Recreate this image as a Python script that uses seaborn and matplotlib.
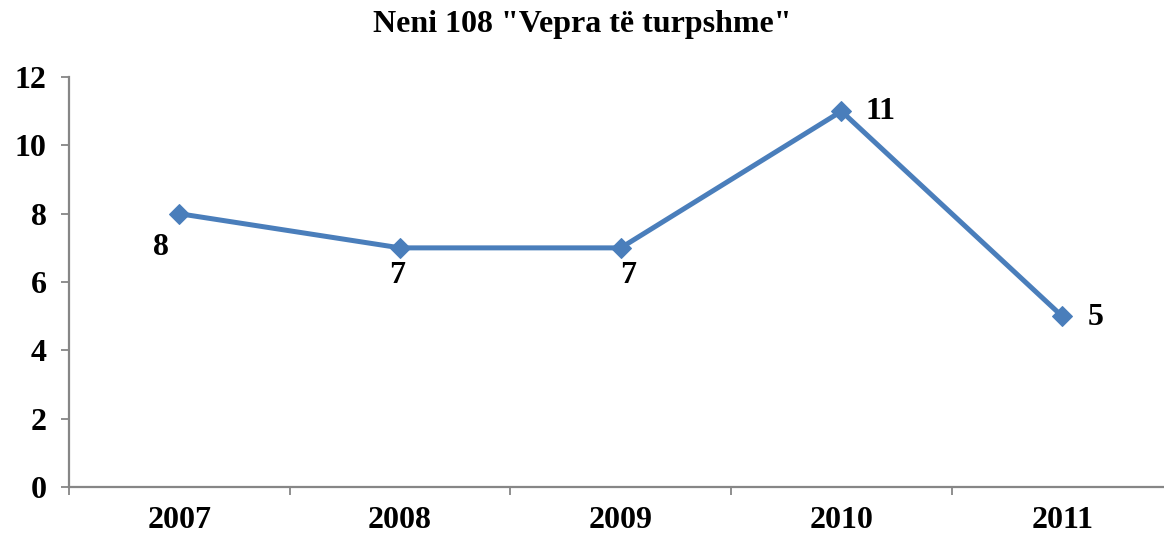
import matplotlib
matplotlib.use("Agg")
import matplotlib.pyplot as plt
import seaborn as sns
import pandas as pd

# ─── Data ─────────────────────────────────────────────────────────────────────
years  = ["2007", "2008", "2009", "2010", "2011"]
values = [8, 7, 7, 11, 5]
# label offsets in points (dx, dy) relative to each marker
label_offsets = [(-13, -24), (-2, -20), (5, -20), (28, 0), (24, -1)]

TITLE      = 'Neni 108 "Vepra të turpshme"'
LINE_COLOR = "#4A7EBB"
AXIS_COLOR = "#868686"
FONT_SIZE  = 23
# ──────────────────────────────────────────────────────────────────────────────

sns.set_style("white")
plt.rcParams["font.family"] = ["Liberation Serif", "DejaVu Serif"]
plt.rcParams["font.weight"] = "bold"
plt.rcParams["text.color"] = "black"
plt.rcParams["xtick.labelcolor"] = "black"
plt.rcParams["ytick.labelcolor"] = "black"

df = pd.DataFrame({"year": years, "value": values})
df["pos"] = range(len(df))

fig = plt.figure(figsize=(11.64, 5.39), dpi=100)
ax = fig.add_axes([0.0593, 0.0965, 0.948, 0.7605])

sns.lineplot(data=df, x="pos", y="value", ax=ax, color=LINE_COLOR,
             linewidth=3.6, marker="D", markersize=10,
             markeredgecolor=LINE_COLOR, markerfacecolor=LINE_COLOR)

for (x, y), (dx, dy) in zip(zip(df["pos"], df["value"]), label_offsets):
    ax.annotate(str(y), (x, y), xytext=(dx, dy), textcoords="offset points",
                ha="center", va="center", fontsize=FONT_SIZE,
                fontweight="bold", color="black")

ax.set_xlim(-0.5, len(years) - 0.5)
ax.set_ylim(0, 12)
ax.set_yticks(range(0, 13, 2))
ax.set_xticks(df["pos"])
ax.set_xticklabels(years)
ax.set_xticks([i - 0.5 for i in range(len(years) + 1)], minor=True)
ax.tick_params(axis="x", which="major", length=0, pad=14, labelsize=FONT_SIZE,
               labelcolor="black")
ax.tick_params(axis="x", which="minor", length=6, width=1.3, color=AXIS_COLOR,
               direction="out", bottom=True)
ax.tick_params(axis="y", length=6, width=1.3, color=AXIS_COLOR, pad=10,
               labelsize=FONT_SIZE, left=True, labelcolor="black")
for lbl in ax.get_xticklabels() + ax.get_yticklabels():
    lbl.set_fontweight("bold")

for side in ["top", "right"]:
    ax.spines[side].set_visible(False)
for side in ["left", "bottom"]:
    ax.spines[side].set_color(AXIS_COLOR)
    ax.spines[side].set_linewidth(1.6)

ax.set_xlabel("")
ax.set_ylabel("")
fig.text(0.5, 0.955, TITLE, ha="center", va="center",
         fontsize=FONT_SIZE, fontweight="bold", color="black")

fig.savefig("out.png", dpi=100)
